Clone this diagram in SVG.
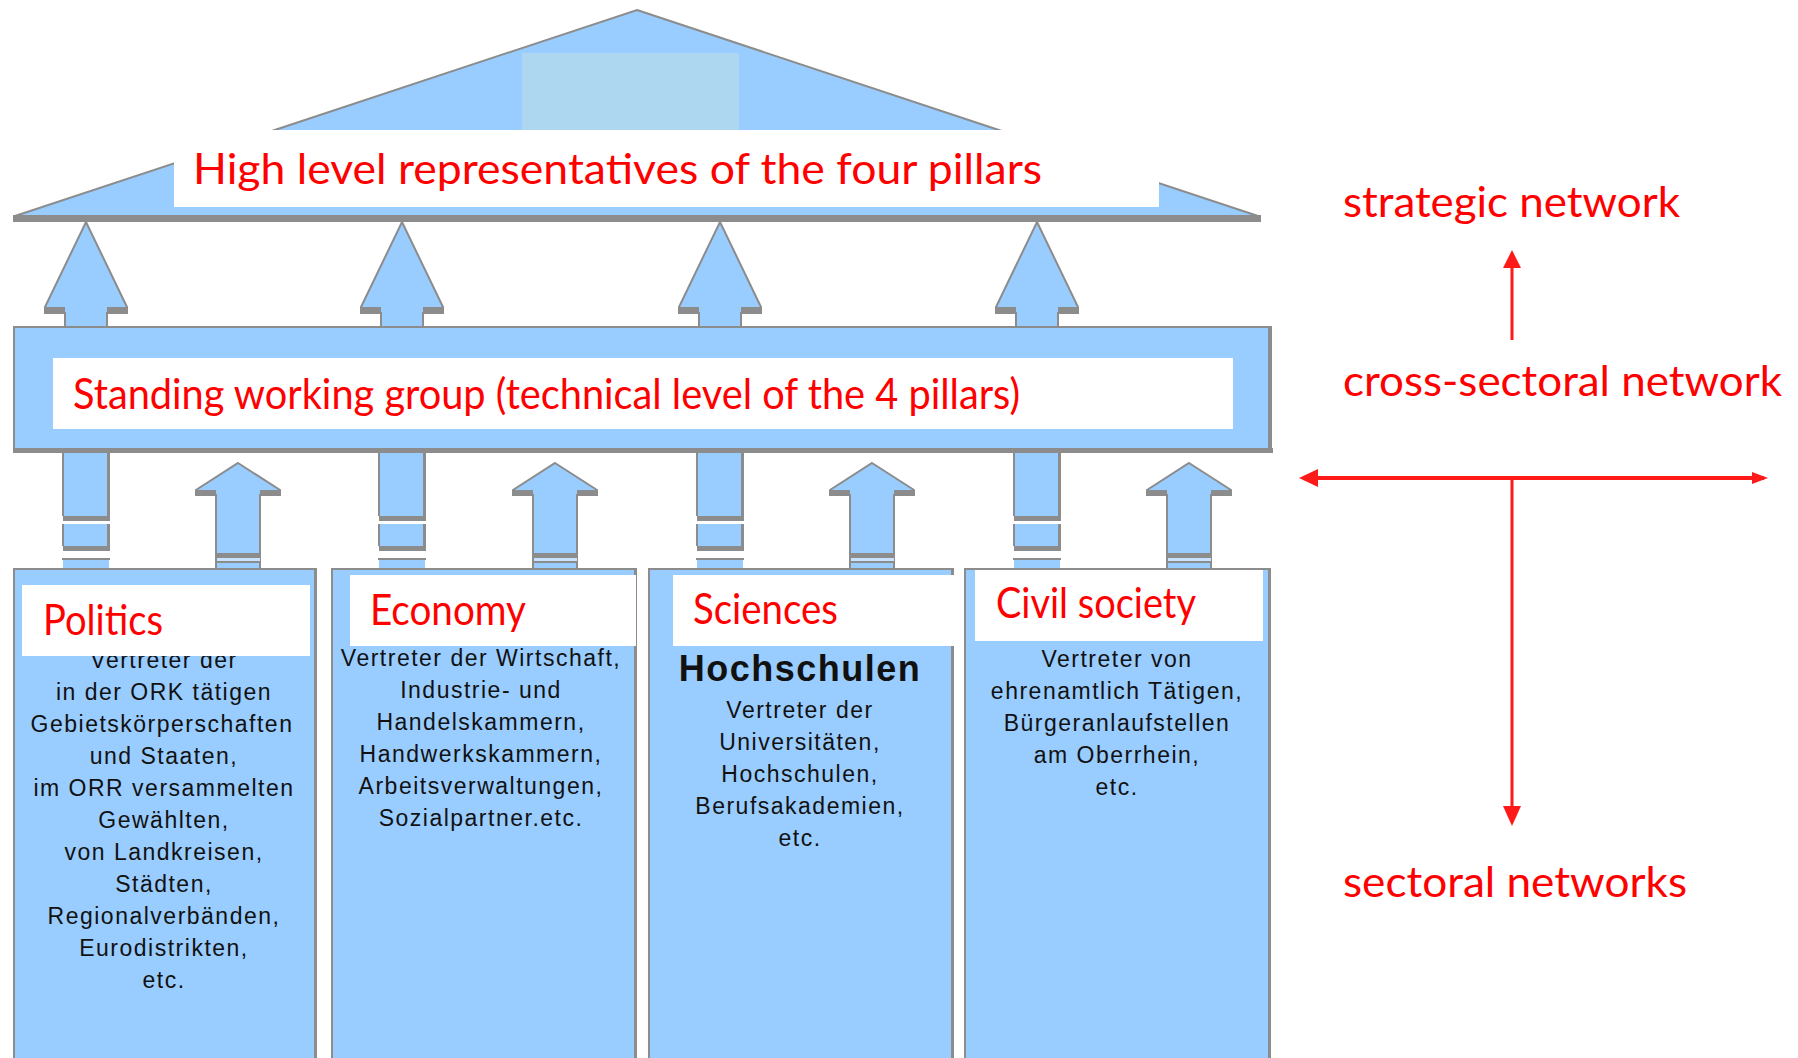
<svg xmlns="http://www.w3.org/2000/svg" width="1798" height="1058" viewBox="0 0 1798 1058">
<defs>
<style>
.blue{fill:#99CCFF;stroke:#8C8C8C;stroke-width:2}
.bf{fill:#99CCFF}
.sh{fill:#8C8C8C}
.lbl{fill:#FFFFFF}
.red{font-family:Lato,"Open Sans","Liberation Sans",sans-serif;fill:#FF0000;font-size:42px}
.blk{font-family:"Liberation Sans",Arial,sans-serif;font-size:23px;fill:#111111;letter-spacing:1.5px;text-anchor:middle}
.rl{stroke:#FF1A1A;fill:none}
.rh{fill:#FF1A1A}
</style>
<g id="upTop">
<path class="blue" d="M0,0 L41,85 L41,91 L21,91 L21,105 L-21,105 L-21,91 L-41,91 L-41,85 Z"/>
<rect class="sh" x="-42" y="85" width="21" height="6"/>
<rect class="sh" x="21" y="85" width="21" height="6"/>
</g>
<g id="upLow">
<path class="blue" d="M0,0 L42,27 L42,32 L22,32 L22,106 L-22,106 L-22,32 L-42,32 L-42,27 Z"/>
<rect class="sh" x="-43" y="27" width="21" height="5"/>
<rect class="sh" x="22" y="27" width="21" height="5"/>
<rect class="sh" x="-22" y="90" width="45" height="5"/>
<rect fill="#C8E2FF" x="-21" y="95" width="43" height="3"/>
<rect class="sh" x="-22" y="98" width="45" height="2"/>
</g>
<g id="dash">
<rect class="bf" x="-23" y="0" width="46" height="64"/>
<rect class="sh" x="-23" y="64" width="47" height="5"/>
<rect class="sh" x="21" y="0" width="3" height="64"/>
<rect class="sh" x="-24" y="0" width="2" height="64"/>
<rect class="bf" x="-23" y="72" width="46" height="22"/>
<rect class="sh" x="-23" y="94" width="47" height="5"/>
<rect class="sh" x="21" y="72" width="3" height="22"/>
<rect class="sh" x="-24" y="72" width="2" height="22"/>
<rect class="bf" x="-23" y="106" width="46" height="11"/>
<rect class="sh" x="-24" y="106" width="48" height="2"/>
</g>
</defs>
<rect x="0" y="0" width="1798" height="1058" fill="#FFFFFF"/>

<g id="connectors">
<use href="#upTop" x="86" y="222"/>
<use href="#upTop" x="402" y="222"/>
<use href="#upTop" x="720" y="222"/>
<use href="#upTop" x="1037" y="222"/>
<use href="#dash" x="86" y="452"/>
<use href="#dash" x="402" y="452"/>
<use href="#dash" x="720" y="452"/>
<use href="#dash" x="1037" y="452"/>
<use href="#upLow" x="238" y="463"/>
<use href="#upLow" x="555" y="463"/>
<use href="#upLow" x="872" y="463"/>
<use href="#upLow" x="1189" y="463"/>
<line class="rl" x1="1512" y1="340" x2="1512" y2="262" stroke-width="3"/>
<polygon class="rh" points="1512,250 1503,268 1521,268"/>
<line class="rl" x1="1312" y1="478" x2="1764" y2="478" stroke-width="4"/>
<polygon class="rh" points="1299,478 1318,469 1318,487"/>
<polygon class="rh" points="1768,478 1752,472 1752,484"/>
<line class="rl" x1="1512" y1="478" x2="1512" y2="812" stroke-width="3"/>
<polygon class="rh" points="1512,826 1503,806 1521,806"/>
</g>

<g id="roof">
<polygon class="blue" points="637,10 1258,216 15,216"/>
<rect class="sh" x="13" y="215" width="1248" height="7"/>
<rect x="522" y="53" width="217" height="79" fill="#ADD6F0"/>
<rect class="lbl" x="174" y="130" width="985" height="77"/>
<text class="red" x="193" y="184" textLength="849" lengthAdjust="spacingAndGlyphs">High level representatives of the four pillars</text>
</g>

<g id="working-group">
<rect class="blue" x="14" y="327" width="1256" height="123"/>
<rect class="sh" x="13" y="448" width="1260" height="5"/>
<rect class="sh" x="1268" y="326" width="4" height="127"/>
<rect class="lbl" x="53" y="358" width="1180" height="71"/>
<text class="red" x="73" y="409" textLength="947" lengthAdjust="spacingAndGlyphs">Standing working group (technical level of the 4 pillars)</text>
</g>

<g id="politics">
<rect class="blue" x="14" y="569" width="301" height="500"/>
<rect class="sh" x="314" y="568" width="3" height="500"/>
<text class="blk" x="164" y="668">Vertreter der</text>
<text class="blk" x="164" y="700">in der ORK tätigen</text>
<text class="blk" x="162" y="732">Gebietskörperschaften</text>
<text class="blk" x="164" y="764">und Staaten,</text>
<text class="blk" x="164" y="796">im ORR versammelten</text>
<text class="blk" x="164" y="828">Gewählten,</text>
<text class="blk" x="164" y="860">von Landkreisen,</text>
<text class="blk" x="164" y="892">Städten,</text>
<text class="blk" x="164" y="924">Regionalverbänden,</text>
<text class="blk" x="164" y="956">Eurodistrikten,</text>
<text class="blk" x="164" y="988">etc.</text>
<rect class="lbl" x="22" y="585" width="288" height="71"/>
<text class="red" x="43" y="635" textLength="120" lengthAdjust="spacingAndGlyphs">Politics</text>
</g>

<g id="economy">
<rect class="blue" x="332" y="569" width="303" height="500"/>
<rect class="sh" x="634" y="568" width="3" height="500"/>
<text class="blk" x="481" y="666">Vertreter der Wirtschaft,</text>
<text class="blk" x="481" y="698">Industrie- und</text>
<text class="blk" x="481" y="730">Handelskammern,</text>
<text class="blk" x="481" y="762">Handwerkskammern,</text>
<text class="blk" x="481" y="794">Arbeitsverwaltungen,</text>
<text class="blk" x="481" y="826">Sozialpartner.etc.</text>
<rect class="lbl" x="350" y="575" width="286" height="71"/>
<text class="red" x="370" y="625" textLength="156" lengthAdjust="spacingAndGlyphs">Economy</text>
</g>

<g id="sciences">
<rect class="blue" x="649" y="569" width="303" height="500"/>
<rect class="sh" x="951" y="568" width="3" height="500"/>
<text class="blk" x="800" y="681" style="font-size:36px;font-weight:bold">Hochschulen</text>
<text class="blk" x="800" y="718">Vertreter der</text>
<text class="blk" x="800" y="750">Universitäten,</text>
<text class="blk" x="800" y="782">Hochschulen,</text>
<text class="blk" x="800" y="814">Berufsakademien,</text>
<text class="blk" x="800" y="846">etc.</text>
<rect class="lbl" x="673" y="575" width="282" height="71"/>
<text class="red" x="693" y="624" textLength="145" lengthAdjust="spacingAndGlyphs">Sciences</text>
</g>

<g id="civil-society">
<rect class="blue" x="965" y="569" width="304" height="500"/>
<rect class="sh" x="1268" y="568" width="3" height="500"/>
<text class="blk" x="1117" y="667">Vertreter von</text>
<text class="blk" x="1117" y="699">ehrenamtlich Tätigen,</text>
<text class="blk" x="1117" y="731">Bürgeranlaufstellen</text>
<text class="blk" x="1117" y="763">am Oberrhein,</text>
<text class="blk" x="1117" y="795">etc.</text>
<rect class="lbl" x="975" y="570" width="288" height="71"/>
<text class="red" x="996" y="618" textLength="200" lengthAdjust="spacingAndGlyphs">Civil society</text>
</g>

<g id="levels">
<text class="red" x="1343" y="217" textLength="337" lengthAdjust="spacingAndGlyphs">strategic network</text>
<text class="red" x="1343" y="396" textLength="439" lengthAdjust="spacingAndGlyphs">cross-sectoral network</text>
<text class="red" x="1343" y="897" textLength="344" lengthAdjust="spacingAndGlyphs">sectoral networks</text>
</g>
</svg>
